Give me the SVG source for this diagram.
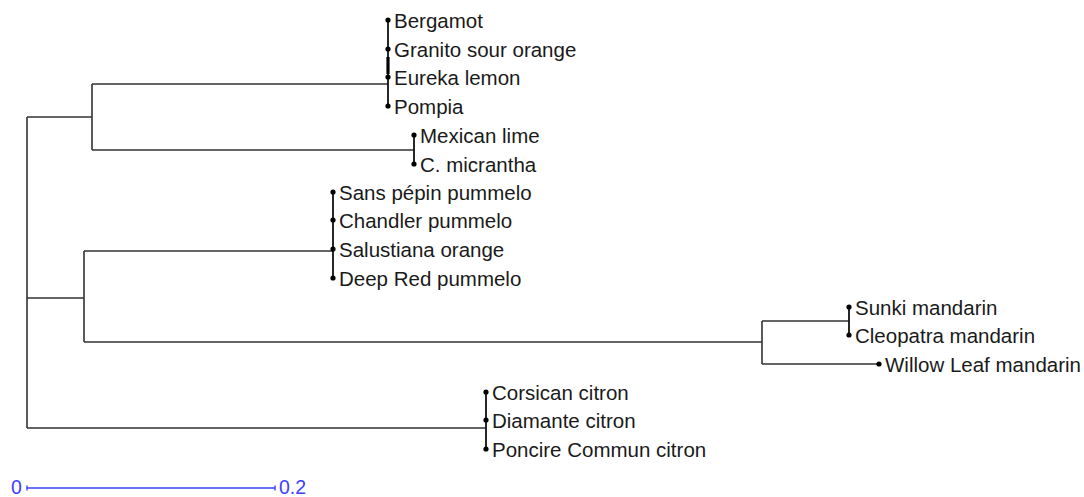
<svg xmlns="http://www.w3.org/2000/svg" width="1084" height="497" viewBox="0 0 1084 497">
<style>
.br{fill:none;stroke:#333;stroke-width:1.6}
.tip{fill:none;stroke:#111;stroke-width:1.8}
.dot{fill:#000}
.lbl{font-family:"Liberation Sans",Arial,sans-serif;font-size:20.5px;fill:#1a1a1a}
.sc{font-family:"Liberation Sans",Arial,sans-serif;font-size:19.5px;fill:#4040ff}
</style>
<rect width="1084" height="497" fill="#fff"/>
<g id="connectors">
<path class="br" d="M27,117V428M27,117H92M27,298H84M27,428H486"/>
<path class="br" d="M92,84V150M92,84H388M92,150H414"/>
<path class="br" d="M84,251V342M84,251H333M84,342H762"/>
<path class="br" d="M762,321V364M762,321H849M762,364H879"/>
<path class="tip" d="M388,20V106M414,135V164M333,192V278M849,307V335M486,392V449"/>
<path d="M388,57V74" stroke="#000" stroke-width="3.2"/>
</g>
<g id="n-bergamot"><circle class="dot" cx="388" cy="20" r="2.6"/><text class="lbl" x="394" y="27.5">Bergamot</text></g>
<g id="n-granito"><circle class="dot" cx="388" cy="49" r="2.6"/><text class="lbl" x="394" y="56.5">Granito sour orange</text></g>
<g id="n-eureka"><circle class="dot" cx="388" cy="77" r="2.6"/><text class="lbl" x="394" y="84.5">Eureka lemon</text></g>
<g id="n-pompia"><circle class="dot" cx="388" cy="106" r="2.6"/><text class="lbl" x="394" y="113.5">Pompia</text></g>
<g id="n-mexican"><circle class="dot" cx="414" cy="135" r="2.6"/><text class="lbl" x="420" y="142.5">Mexican lime</text></g>
<g id="n-micrantha"><circle class="dot" cx="414" cy="164" r="2.6"/><text class="lbl" x="420" y="171.5">C. micrantha</text></g>
<g id="n-sanspepin"><circle class="dot" cx="333" cy="192" r="2.6"/><text class="lbl" x="339" y="199.5">Sans pépin pummelo</text></g>
<g id="n-chandler"><circle class="dot" cx="333" cy="220" r="2.6"/><text class="lbl" x="339" y="227.5">Chandler pummelo</text></g>
<g id="n-salustiana"><circle class="dot" cx="333" cy="249" r="2.6"/><text class="lbl" x="339" y="256.5">Salustiana orange</text></g>
<g id="n-deepred"><circle class="dot" cx="333" cy="278" r="2.6"/><text class="lbl" x="339" y="285.5">Deep Red pummelo</text></g>
<g id="n-sunki"><circle class="dot" cx="849" cy="307" r="2.6"/><text class="lbl" x="855" y="314.5">Sunki mandarin</text></g>
<g id="n-cleopatra"><circle class="dot" cx="849" cy="335" r="2.6"/><text class="lbl" x="855" y="342.5">Cleopatra mandarin</text></g>
<g id="n-willow"><circle class="dot" cx="879" cy="364" r="2.6"/><text class="lbl" x="885" y="371.5">Willow Leaf mandarin</text></g>
<g id="n-corsican"><circle class="dot" cx="486" cy="392" r="2.6"/><text class="lbl" x="492" y="399.5">Corsican citron</text></g>
<g id="n-diamante"><circle class="dot" cx="486" cy="420" r="2.6"/><text class="lbl" x="492" y="427.5">Diamante citron</text></g>
<g id="n-poncire"><circle class="dot" cx="486" cy="449" r="2.6"/><text class="lbl" x="492" y="456.5">Poncire Commun citron</text></g>
<g id="scale">
<path d="M27,488H275M27,485.5V490.5M275,485.5V490.5" stroke="#4040ff" stroke-width="1.4" fill="none"/>
<text class="sc" x="11" y="494">0</text>
<text class="sc" x="279" y="494">0.2</text>
</g>
</svg>
